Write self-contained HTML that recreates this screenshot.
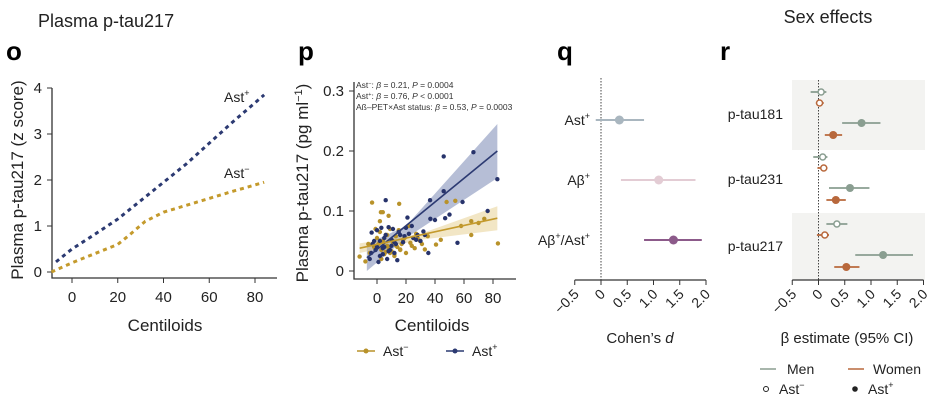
<!DOCTYPE html>
<html><head><meta charset="utf-8">
<style>
body{margin:0;background:#fff;}
svg{display:block;font-family:"Liberation Sans",sans-serif;}
</style></head>
<body>
<svg id="fig" width="948" height="418" viewBox="0 0 948 418">
<g id="po">
  <text x="38" y="27" font-size="18" fill="#222">Plasma p-tau217</text>
  <text x="6" y="60" font-size="26" font-weight="bold">o</text>
  <text transform="translate(23,180) rotate(-90)" text-anchor="middle" font-size="17" fill="#222">Plasma p-tau217 (z score)</text>
  <text x="165" y="331" text-anchor="middle" font-size="17" fill="#222">Centiloids</text>
  <text x="224" y="102" font-size="14" fill="#222">Ast<tspan font-size="9" dy="-6">+</tspan></text>
  <text x="224" y="178" font-size="14" fill="#222">Ast<tspan font-size="9" dy="-6">−</tspan></text>
</g>
<g id="pp">
  <text x="298" y="60" font-size="26" font-weight="bold">p</text>
  <text transform="translate(308,183) rotate(-90)" text-anchor="middle" font-size="17" fill="#222">Plasma p-tau217 (pg ml<tspan font-size="11" dy="-6">−1</tspan><tspan dy="6">)</tspan></text>
  <text x="432" y="331" text-anchor="middle" font-size="17" fill="#222">Centiloids</text>
  <g font-size="8.5" fill="#333">
    <text x="356" y="88">Ast<tspan font-size="5.5" dy="-3">−</tspan><tspan dy="3">: </tspan><tspan font-style="italic">β</tspan> = 0.21, <tspan font-style="italic">P</tspan> = 0.0004</text>
    <text x="356" y="99">Ast<tspan font-size="5.5" dy="-3">+</tspan><tspan dy="3">: </tspan><tspan font-style="italic">β</tspan> = 0.76, <tspan font-style="italic">P</tspan> &lt; 0.0001</text>
    <text x="356" y="110">Aß–PET×Ast status: <tspan font-style="italic">β</tspan> = 0.53, <tspan font-style="italic">P</tspan> = 0.0003</text>
  </g>
  <g>
    <line x1="357" y1="351" x2="375" y2="351" stroke="#b8922a" stroke-width="1.5"/><circle cx="366" cy="351" r="2.5" fill="#b8922a"/>
    <text x="383" y="356" font-size="14" fill="#222">Ast<tspan font-size="9" dy="-6">−</tspan></text>
    <line x1="446" y1="351" x2="464" y2="351" stroke="#2c3a72" stroke-width="1.5"/><circle cx="455" cy="351" r="2.5" fill="#2c3a72"/>
    <text x="472" y="356" font-size="14" fill="#222">Ast<tspan font-size="9" dy="-6">+</tspan></text>
  </g>
</g>
<g id="pq">
  <text x="557" y="60" font-size="26" font-weight="bold">q</text>
  <text x="640" y="343" text-anchor="middle" font-size="15" fill="#222">Cohen’s <tspan font-style="italic">d</tspan></text>
</g>
<g id="pr">
  <text x="828" y="23" text-anchor="middle" font-size="18" fill="#222">Sex effects</text>
  <text x="720" y="60" font-size="26" font-weight="bold">r</text>
  <text x="847" y="343" text-anchor="middle" font-size="15" fill="#222">β estimate (95% CI)</text>
  <g>
    <line x1="760" y1="369" x2="776" y2="369" stroke="#8a9e91" stroke-width="1.5"/>
    <text x="787" y="374" font-size="14" fill="#222">Men</text>
    <line x1="848" y1="369" x2="864" y2="369" stroke="#b8683c" stroke-width="1.5"/>
    <text x="873" y="374" font-size="14" fill="#222">Women</text>
    <circle cx="766" cy="389" r="2.5" fill="#fff" stroke="#222" stroke-width="1"/>
    <text x="779" y="394" font-size="14" fill="#222">Ast<tspan font-size="9" dy="-6">−</tspan></text>
    <circle cx="855" cy="389" r="2.8" fill="#222"/>
    <text x="868" y="394" font-size="14" fill="#222">Ast<tspan font-size="9" dy="-6">+</tspan></text>
  </g>
</g>
</svg>
<script>
const NS="http://www.w3.org/2000/svg";
function mk(parent,tag,attrs,text){const e=document.createElementNS(NS,tag);for(const k in attrs)e.setAttribute(k,attrs[k]);if(text!==undefined)e.textContent=text;parent.appendChild(e);return e;}

// ---------- Panel o data ----------
const oTicksX=[0,20,40,60,80];
const oTicksY=[0,1,2,3,4];
const oPosX=[-7,0,10,20,30,40,50,60,70,84];
const oPosY=[0.22,0.5,0.82,1.15,1.55,1.95,2.35,2.8,3.25,3.85];
const oNegX=[-9,0,10,20,25,32,40,50,60,70,84];
const oNegY=[0,0.2,0.4,0.6,0.8,1.1,1.3,1.45,1.6,1.75,1.95];

// ---------- Panel p data ----------
const pTicksX=[0,20,40,60,80];
const pTicksY=[0,0.1,0.2,0.3];
const pNegPtsX=[-3.4,15.3,2.7,4,8,48,54,74,65,65,83.4,40.7,33,29.7,-12,-8,-5,-2,0,1,2,3,4,5,6,7,8,9,10,11,12,13,14,15,16,17,18,20,22,24,26,28,-6,-1,3,5,7,9,11,13,16,19,23,27,31,35,44,58,70,2,6,12];
const pNegPtsY=[0.114,0.112,0.098,0.098,0.092,0.115,0.117,0.087,0.083,0.060,0.046,0.044,0.036,0.050,0.024,0.016,0.030,0.040,0.055,0.045,0.065,0.035,0.050,0.028,0.060,0.042,0.038,0.070,0.033,0.048,0.025,0.058,0.040,0.068,0.035,0.045,0.052,0.030,0.075,0.042,0.038,0.055,0.045,0.070,0.020,0.040,0.060,0.030,0.050,0.043,0.036,0.055,0.047,0.062,0.045,0.058,0.052,0.075,0.080,0.083,0.032,0.028];
const pPosPtsX=[46,66.5,83,46,36.6,59,6,21,50,47,36.8,76.3,55.5,35.4,-3.7,-5,-3,-1,0,1,2,3,4,5,6,7,8,9,10,11,12,13,14,16,18,20,22,25,28,30,32,-4,0,2,5,8,12,15,19,24,27,33,40,-2,4,10];
const pPosPtsY=[0.191,0.198,0.153,0.133,0.118,0.115,0.118,0.089,0.094,0.088,0.087,0.100,0.047,0.030,0.064,0.020,0.045,0.035,0.068,0.015,0.050,0.072,0.028,0.040,0.060,0.020,0.073,0.035,0.052,0.070,0.030,0.045,0.018,0.060,0.048,0.072,0.062,0.055,0.060,0.050,0.066,0.030,0.040,0.025,0.055,0.033,0.048,0.065,0.058,0.075,0.052,0.060,0.085,0.050,0.038,0.042];
const pNegFit=[[-12,0.038],[83,0.088]];
const pPosFit=[[-7,0.022],[83,0.200]];
const pNegBand=[[-12,0.030,0.046],[30,0.052,0.062],[83,0.068,0.108]];
const pPosBand=[[-7,0.000,0.045],[20,0.055,0.075],[83,0.155,0.245]];

// ---------- Panel q data ----------
const qLabels=["Ast+","Aβ+","Aβ+/Ast+"];
const qEst=[0.35,1.1,1.38];
const qLo=[-0.1,0.38,0.82];
const qHi=[0.82,1.8,1.92];
const qColors=["#a9b6bf","#e3ccd4","#8c5a8a"];
const effTicks=[-0.5,0,0.5,1.0,1.5,2.0];
const effTickLabels=["−0.5","0","0.5","1.0","1.5","2.0"];

// ---------- Panel r data ----------
const rMarkers=["p-tau181","p-tau231","p-tau217"];
const rEst=[[0.05,0.02,0.82,0.28],[0.08,0.1,0.6,0.33],[0.35,0.12,1.23,0.53]];
const rLo=[[-0.15,-0.05,0.45,0.12],[-0.1,-0.02,0.2,0.15],[0.15,-0.03,0.7,0.3]];
const rHi=[[0.15,0.1,1.18,0.45],[0.17,0.17,0.97,0.52],[0.55,0.2,1.8,0.78]];

const svg=document.getElementById('fig');
// ===== Panel o =====
(function(){
  const g=document.getElementById('po');
  const x=v=>72+(v/20)*45.75, y=v=>272-v*46;
  let a=mk(g,'path',{d:'M52,88 V278 H277',fill:'none',stroke:'#333','stroke-width':1.3});
  
  
  oTicksX.forEach(t=>{mk(g,'line',{x1:x(t),x2:x(t),y1:278,y2:283,stroke:'#333'});
    const l=mk(g,'text',{x:x(t),y:302,'text-anchor':'middle','font-size':15,fill:'#222'},t);
    
    });
  oTicksY.forEach(t=>{mk(g,'line',{x1:47,x2:52,y1:y(t),y2:y(t),stroke:'#333'});
    const l=mk(g,'text',{x:42,y:y(t)+5,'text-anchor':'end','font-size':15,fill:'#222'},t);
    
    });
  const line=(xs,ys,c,n)=>{const p=mk(g,'polyline',{points:xs.map((v,i)=>x(v)+','+y(ys[i])).join(' '),fill:'none',stroke:c,'stroke-width':3,'stroke-dasharray':'4 4'});
    
    };
  line(oPosX,oPosY,'#2c3a72','line-ast-pos');
  line(oNegX,oNegY,'#c49a2c','line-ast-neg');
})();
// ===== Panel p =====
(function(){
  const g=document.getElementById('pp');
  const x=v=>377+(v/20)*29, y=v=>271-v*600;
  const band=(b,c,n)=>{const pts=b.map(r=>x(r[0])+','+y(r[2])).concat(b.slice().reverse().map(r=>x(r[0])+','+y(r[1])));
    const p=mk(g,'polygon',{points:pts.join(' '),fill:c,opacity:0.45});
    
    };
  band(pPosBand,'#5e6fa3','ci-band-ast-pos');
  band(pNegBand,'#e3c77e','ci-band-ast-neg');
  const pts=(xs,ys,c,n)=>xs.forEach((v,i)=>{const d=mk(g,'circle',{cx:x(v),cy:y(ys[i]),r:2.2,fill:c});
    
    });
  pts(pNegPtsX,pNegPtsY,'#b8922a','point-ast-neg');
  pts(pPosPtsX,pPosPtsY,'#27336b','point-ast-pos');
  const fit=(f,c,n)=>{const l=mk(g,'line',{x1:x(f[0][0]),y1:y(f[0][1]),x2:x(f[1][0]),y2:y(f[1][1]),stroke:c,'stroke-width':1.6});
    
    };
  fit(pPosFit,'#2c3a72','fit-ast-pos');
  fit(pNegFit,'#c49a2c','fit-ast-neg');
  const a=mk(g,'path',{d:'M354,82 V279 H516',fill:'none',stroke:'#333','stroke-width':1.3});
  
  
  pTicksX.forEach(t=>{mk(g,'line',{x1:x(t),x2:x(t),y1:279,y2:284,stroke:'#333'});
    const l=mk(g,'text',{x:x(t),y:303,'text-anchor':'middle','font-size':15,fill:'#222'},t);
    
    });
  pTicksY.forEach(t=>{mk(g,'line',{x1:349,x2:354,y1:y(t),y2:y(t),stroke:'#333'});
    const l=mk(g,'text',{x:344,y:y(t)+5,'text-anchor':'end','font-size':15,fill:'#222'},t===0?'0':t.toFixed(1));
    
    });
})();
// ===== shared effect axis =====
function effAxis(g,x0,pref){
  const x=v=>x0+v*52.5;
  mk(g,'line',{x1:x(-0.5),x2:x(2),y1:280,y2:280,stroke:'#333','stroke-width':1.3});
  effTicks.forEach((t,i)=>{mk(g,'line',{x1:x(t),x2:x(t),y1:280,y2:285,stroke:'#333'});
    const l=mk(g,'text',{transform:`translate(${x(t)+5},${295}) rotate(-45)`,'text-anchor':'end','font-size':14,fill:'#222'},effTickLabels[i]);
    
    });
  return x;
}
// ===== Panel q =====
(function(){
  const g=document.getElementById('pq');
  const x=effAxis(g,601,'panel-q');
  const z=mk(g,'line',{x1:x(0),x2:x(0),y1:78,y2:280,stroke:'#444','stroke-dasharray':'1.5 1.5'});
  
  
  const rows=[120,180,240];
  qLabels.forEach((lab,i)=>{
    const l=mk(g,'line',{x1:x(qLo[i]),x2:x(qHi[i]),y1:rows[i],y2:rows[i],stroke:qColors[i],'stroke-width':2});
    
    
    const c=mk(g,'circle',{cx:x(qEst[i]),cy:rows[i],r:4.5,fill:qColors[i]});
    
    
    const parts=lab.split('/');
    const t=mk(g,'text',{x:590,y:rows[i]+5,'text-anchor':'end','font-size':14,fill:'#222'});
    
    
    parts.forEach((p,k)=>{
      if(k>0)mk(t,'tspan',{dy:6},'/');
      mk(t,'tspan',{},p.replace('+',''));
      mk(t,'tspan',{'font-size':9,dy:-6},'+');
    });
  });
})();
// ===== Panel r =====
(function(){
  const g=document.getElementById('pr');
  const bg1=mk(g,'rect',{x:792,y:80,width:133,height:70,fill:'#f3f3f1'});
  
  
  const bg2=mk(g,'rect',{x:792,y:213,width:133,height:67,fill:'#f3f3f1'});
  
  
  const x=effAxis(g,818.5,'panel-r');
  const z=mk(g,'line',{x1:x(0),x2:x(0),y1:80,y2:280,stroke:'#444','stroke-dasharray':'1.5 1.5'});
  
  
  const base=[92,157,224], off=[0,11,31,43];
  const cols=['#8a9e91','#b8683c','#8a9e91','#b8683c'];
  rMarkers.forEach((m,i)=>{
    const t=mk(g,'text',{x:783,y:base[i]+27,'text-anchor':'end','font-size':14,fill:'#222'},m);
    
    
    for(let j=0;j<4;j++){
      const yy=base[i]+off[j];
      const l=mk(g,'line',{x1:x(rLo[i][j]),x2:x(rHi[i][j]),y1:yy,y2:yy,stroke:cols[j],'stroke-width':1.8});
      
      
      const c=mk(g,'circle',{cx:x(rEst[i][j]),cy:yy,r:j<2?3:4,fill:j<2?'#fff':cols[j],stroke:cols[j],'stroke-width':j<2?1.5:0});
      
      
    }
  });
})();
</script>
</body></html>
